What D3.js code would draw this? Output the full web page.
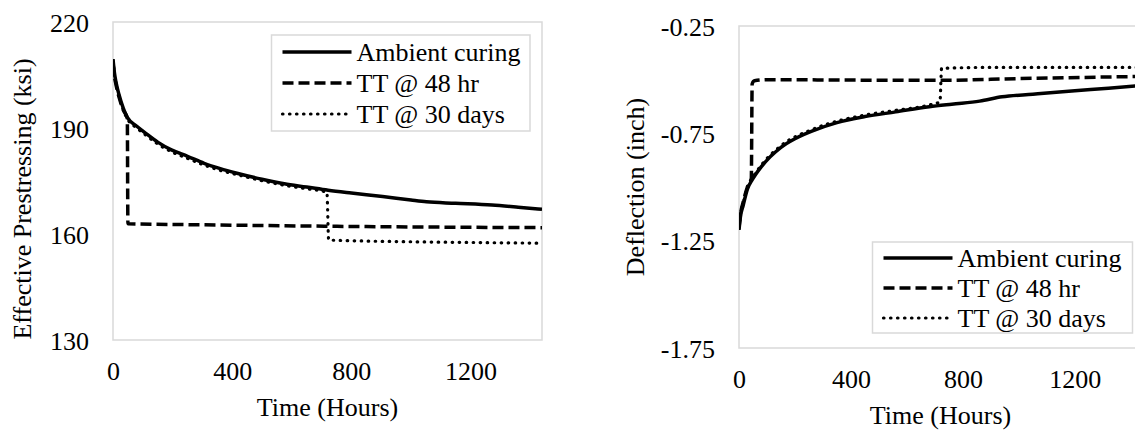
<!DOCTYPE html>
<html>
<head>
<meta charset="utf-8">
<script src="https://cdn.jsdelivr.net/npm/d3@7"></script>
<style>
  body { margin: 0; background: #fff; }
  svg { display: block; font-family: "Liberation Serif", "Times New Roman", serif; }
</style>
</head>
<body>
<svg id="chart" width="1135" height="433"></svg>
<script>
// Data
const seriesNames = ["Ambient curing", "TT @ 48 hr", "TT @ 30 days"];
const timeTicks = [0, 400, 800, 1200];
const prestressTicks = [130, 160, 190, 220];
const deflectionTicks = [-1.75, -1.25, -0.75, -0.25];

// Effective prestressing (ksi) vs time (hours)
const prestressAmbient = [[0,209.5],[5,205.5],[10,203],[20,199.5],[35,195.5],[48,193],[80,190.5],[110,188.5],[150,186],[196,183.8],[250,182],[306,180],[360,178.5],[416,177.2],[500,175.5],[575,174.2],[650,173.3],[722,172.4],[800,171.6],[905,170.6],[1000,169.6],[1052,169.1],[1150,168.7],[1272,168.2],[1360,167.6],[1440,167]];
const prestress48hr = [[0,208.5],[5,204.5],[10,202.3],[20,198.8],[35,195],[48,192.8],[50,162.9],[200,162.7],[400,162.5],[720,162.2],[1000,162],[1440,161.8]];
const prestress30day = [[0,209],[5,204.8],[10,202.5],[20,199],[35,195],[48,192.6],[80,190],[110,188],[150,185.5],[196,183.3],[250,181.4],[306,179.5],[360,178],[416,176.8],[500,175.1],[575,173.8],[650,172.8],[718,171.8],[724,158.3],[800,158.1],[1000,157.8],[1200,157.6],[1440,157.4]];

// Deflection (inch) vs time (hours)
const deflAmbient = [[0,-1.2],[5,-1.14],[15,-1.085],[30,-1.01],[48,-0.965],[80,-0.905],[150,-0.815],[200,-0.775],[270,-0.735],[350,-0.7],[450,-0.672],[560,-0.65],[680,-0.626],[760,-0.614],[860,-0.6],[940,-0.58],[1050,-0.568],[1200,-0.552],[1320,-0.54],[1440,-0.527]];
const defl48hr = [[0,-1.19],[5,-1.13],[15,-1.07],[30,-1.0],[44,-0.96],[47,-0.52],[55,-0.505],[100,-0.5],[400,-0.502],[720,-0.503],[1000,-0.495],[1440,-0.485]];
const defl30day = [[0,-1.19],[5,-1.13],[15,-1.075],[30,-1.0],[48,-0.958],[80,-0.898],[150,-0.808],[270,-0.728],[450,-0.665],[560,-0.643],[680,-0.618],[718,-0.603],[724,-0.447],[900,-0.443],[1200,-0.443],[1440,-0.443]];

const svg = d3.select("#chart");
const FONT = 26;
const lineStyles = [
  {dash: null, width: 3.5, cap: "butt"},
  {dash: "11,5", width: 3.5, cap: "butt"},
  {dash: "0.5,6.5", width: 3.2, cap: "round"}
];

// Draw one panel
function drawPanel(cfg, idx) {
  const g = svg.append("g");
  const x = d3.scaleLinear().domain([0, 1440]).range([cfg.left, cfg.right]);
  const y = d3.scaleLinear().domain(cfg.yDomain).range([cfg.bottom, cfg.top]);

  // plot frame
  g.append("rect")
    .attr("x", cfg.left).attr("y", cfg.top)
    .attr("width", cfg.right - cfg.left).attr("height", cfg.bottom - cfg.top)
    .attr("fill", "none").attr("stroke", "#d9d9d9").attr("stroke-width", 1.5);

  // X axis
  const xAxis = g.append("g")
    .attr("transform", `translate(0,${cfg.bottom})`)
    .call(d3.axisBottom(x).tickValues(timeTicks).tickSize(0).tickFormat(d3.format("d")))
    .attr("font-family", null).attr("font-size", FONT);
  xAxis.select(".domain").remove();
  xAxis.selectAll("text")
    .attr("y", 40).attr("dy", null).attr("fill", "#000");

  // Y axis
  const yAxis = g.append("g")
    .attr("transform", `translate(${cfg.left},0)`)
    .call(d3.axisLeft(y).tickValues(cfg.yTicks).tickSize(0).tickPadding(24).tickFormat(cfg.yFormat))
    .attr("font-family", null).attr("font-size", FONT);
  yAxis.select(".domain").remove();
  yAxis.selectAll("text")
    .attr("dy", "0.35em").attr("fill", "#000");

  // axis titles
  g.append("text")
    .attr("x", (cfg.left + cfg.right) / 2).attr("y", cfg.xTitleY)
    .attr("text-anchor", "middle").attr("font-size", FONT)
    .text("Time (Hours)");
  g.append("text")
    .attr("transform", `translate(${cfg.yTitleX},${cfg.yTitleY}) rotate(-90)`)
    .attr("text-anchor", "middle").attr("font-size", FONT)
    .text(cfg.yTitle);

  // clip lines to the plot area
  const clipId = "clip" + idx;
  g.append("clipPath").attr("id", clipId)
    .append("rect")
    .attr("x", cfg.left).attr("y", cfg.top)
    .attr("width", cfg.right - cfg.left).attr("height", cfg.bottom - cfg.top);

  const line = d3.line()
    .x(d => x(d[0]))
    .y(d => y(d[1]))
    .curve(d3.curveMonotoneX);

  // draw dotted first, then dashed, then solid on top
  [2, 1, 0].forEach(i => {
    g.append("path")
      .datum(cfg.series[i])
      .attr("clip-path", `url(#${clipId})`)
      .attr("fill", "none")
      .attr("stroke", "#000")
      .attr("stroke-width", lineStyles[i].width)
      .attr("stroke-dasharray", lineStyles[i].dash)
      .attr("stroke-linecap", lineStyles[i].cap)
      .attr("d", line);
  });

  // legend
  const lg = cfg.legend;
  g.append("rect")
    .attr("x", lg.x).attr("y", lg.y).attr("width", lg.w).attr("height", lg.h)
    .attr("fill", "#fff").attr("stroke", "#d9d9d9").attr("stroke-width", 1.5);
  seriesNames.forEach((name, i) => {
    const ry = lg.rows[i];
    g.append("line")
      .attr("x1", lg.x + 11).attr("x2", lg.x + 80)
      .attr("y1", ry).attr("y2", ry)
      .attr("stroke", "#000")
      .attr("stroke-width", lineStyles[i].width)
      .attr("stroke-dasharray", lineStyles[i].dash)
      .attr("stroke-linecap", lineStyles[i].cap);
    g.append("text")
      .attr("x", lg.x + 85).attr("y", ry).attr("dy", "0.35em")
      .attr("font-size", FONT)
      .text(name);
  });
}

drawPanel({
  left: 113, right: 542, top: 22, bottom: 340,
  yDomain: [130, 220], yTicks: prestressTicks, yFormat: d3.format("d"),
  yTitle: "Effective Prestressing (ksi)", yTitleX: 31, yTitleY: 199,
  xTitleY: 416,
  series: [prestressAmbient, prestress48hr, prestress30day],
  legend: {x: 271.5, y: 35, w: 258.5, h: 96, rows: [52, 83, 114]}
}, 0);

drawPanel({
  left: 739, right: 1142, top: 26, bottom: 348,
  yDomain: [-1.75, -0.25], yTicks: deflectionTicks, yFormat: d => d.toFixed(2),
  yTitle: "Deflection (inch)", yTitleX: 644, yTitleY: 187,
  xTitleY: 424,
  series: [deflAmbient, defl48hr, defl30day],
  legend: {x: 872.5, y: 242, w: 260, h: 91, rows: [258, 288, 318]}
}, 1);
</script>
</body>
</html>
